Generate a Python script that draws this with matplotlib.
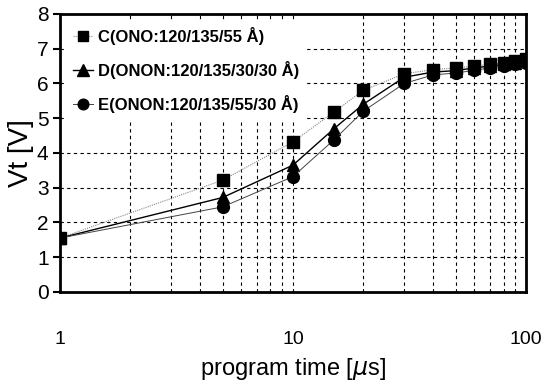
import matplotlib
matplotlib.use("Agg")
import matplotlib.pyplot as plt
from matplotlib.ticker import FixedLocator, NullFormatter, LogLocator

plt.rcParams['font.family'] = ['Liberation Sans', 'DejaVu Sans']

time_us = [1, 5, 10, 15, 20, 30, 40, 50, 60, 70, 80, 90, 100]
vt_C = [1.55, 3.22, 4.32, 5.18, 5.8, 6.28, 6.4, 6.45, 6.5, 6.55, 6.6, 6.65, 6.7]
vt_D = [1.55, 2.72, 3.65, 4.7, 5.4, 6.18, 6.33, 6.37, 6.45, 6.5, 6.55, 6.6, 6.65]
vt_E = [1.55, 2.45, 3.32, 4.38, 5.2, 6.0, 6.25, 6.3, 6.38, 6.45, 6.5, 6.55, 6.6]
labels = ["C(ONO:120/135/55 Å)", "D(ONON:120/135/30/30 Å)", "E(ONON:120/135/55/30 Å)"]
xticks = [1, 10, 100]
xticklabels = ["1", "10", "100"]
yticks = list(range(0, 9))

fig = plt.figure(figsize=(5.43, 3.84), dpi=100)
ax = fig.add_axes([0.110, 0.2396, 0.859, 0.724])

ax.plot(time_us, vt_C, color='#888888', lw=0.8, ls=(0, (1, 1)), marker='s',
        ms=8.5, mfc='black', mec='black', label=labels[0], zorder=3)
ax.plot(time_us, vt_D, color='black', lw=1.0, marker='^',
        ms=9, mfc='black', mec='black', label=labels[1], zorder=3)
ax.plot(time_us, vt_E, color='#444444', lw=0.7, marker='o',
        ms=8.5, mfc='black', mec='black', label=labels[2], zorder=3)

ax.set_xscale('log')
ax.set_xlim(1, 100)
ax.set_ylim(0, 8)
ax.xaxis.set_major_locator(FixedLocator(xticks))
ax.set_xticklabels(xticklabels)
ax.xaxis.set_minor_locator(LogLocator(base=10, subs=range(2, 10)))
ax.xaxis.set_minor_formatter(NullFormatter())
ax.set_yticks(yticks)

ax.grid(True, which='both', axis='x', color='black', ls=(0, (3, 3)), lw=0.8)
ax.grid(True, which='major', axis='y', color='black', ls=(0, (3, 3)), lw=0.8)

ax.tick_params(axis='x', which='both', length=0, pad=28, labelsize=14)
ax.tick_params(axis='y', which='major', length=5, width=1.5, direction='out',
               pad=3, labelsize=15)
for s in ax.spines.values():
    s.set_linewidth(2)

ax.set_xlabel("program time [$\\mu$s]", fontsize=17, labelpad=6)
ax.set_ylabel("Vt [V]", fontsize=20, labelpad=2)

leg = ax.legend(loc='upper left', frameon=True,
                prop={'size': 12, 'weight': 'bold'},
                handlelength=1.2, handletextpad=0.3, labelspacing=0.95,
                borderaxespad=0.4, borderpad=0.4, markerscale=0.9)
leg.get_frame().set_edgecolor('none')
leg.get_frame().set_facecolor('white')
leg.get_frame().set_alpha(1)
leg.set_zorder(2.5)

fig.savefig("out.png", dpi=100)
